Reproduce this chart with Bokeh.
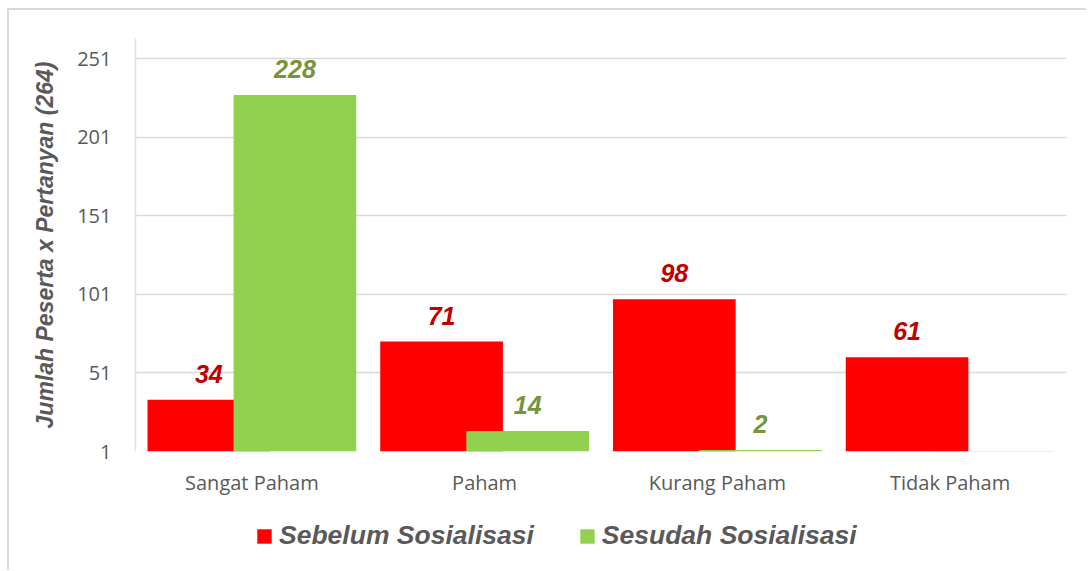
from bokeh.plotting import figure
from bokeh.layouts import column
from bokeh.models import ColumnDataSource, FactorRange, Range1d, FixedTicker, Legend, LegendItem
from bokeh.transform import dodge
from bokeh.core.properties import value
from bokeh.embed import file_html
from bokeh.resources import INLINE

categories = ["Sangat Paham", "Paham", "Kurang Paham", "Tidak Paham"]
sebelum = [34, 71, 98, 61]
sesudah = [228, 14, 2, 0]
sebelum_labels = ["34", "71", "98", "61"]
sesudah_labels = ["228", "14", "2", ""]
y_ticks = [1, 51, 101, 151, 201, 251]
series_names = ["Sebelum Sosialisasi", "Sesudah Sosialisasi"]
y_title = "Jumlah Peserta x Pertanyan (264)"

RED = "#FF0000"
GREEN = "#92D050"
BAR_W = 0.527
OFF = 0.185

src = ColumnDataSource(dict(cat=categories, sebelum=sebelum, sesudah=sesudah,
                            sebelum_labels=sebelum_labels, sesudah_labels=sesudah_labels))

p = figure(x_range=FactorRange(*categories, range_padding=0), y_range=Range1d(1, 264),
           frame_width=931, frame_height=413,
           min_border_left=126, min_border_right=20, min_border_top=28, min_border_bottom=45,
           output_backend="svg", toolbar_location=None,
           background_fill_color="white", border_fill_color="white")
p.outline_line_color = None

r1 = p.vbar(x=dodge("cat", -OFF, range=p.x_range), top="sebelum", bottom=1, width=BAR_W,
            source=src, fill_color=RED, line_color=None)
r2 = p.vbar(x=dodge("cat", OFF, range=p.x_range), top="sesudah", bottom=1, width=BAR_W,
            source=src, fill_color=GREEN, line_color=None)

lab_font = value("Liberation Sans")
p.text(x=dodge("cat", -OFF, range=p.x_range), y="sebelum", text="sebelum_labels", source=src,
       y_offset=-26, text_align="center", text_baseline="alphabetic",
       text_font=lab_font, text_font_style="bold italic", text_font_size="25px", text_color="#C00000")
p.text(x=dodge("cat", OFF, range=p.x_range), y="sesudah", text="sesudah_labels", source=src,
       y_offset=-26, text_align="center", text_baseline="alphabetic",
       text_font=lab_font, text_font_style="bold italic", text_font_size="25px", text_color="#77933C")

# axes
p.yaxis.ticker = FixedTicker(ticks=y_ticks)
p.yaxis.axis_line_color = "#e6e1d6"
p.yaxis.axis_line_width = 1.5
p.yaxis.major_tick_line_color = None
p.yaxis.minor_tick_line_color = None
p.yaxis.major_label_standoff = 18
p.yaxis.major_label_text_font = "Open Sans"
p.yaxis.major_label_text_font_size = "20px"
p.yaxis.major_label_text_color = "#595959"
p.yaxis.axis_label = y_title
p.yaxis.axis_label_text_font = "Liberation Sans"
p.yaxis.axis_label_text_font_style = "bold italic"
p.yaxis.axis_label_text_font_size = "23px"
p.yaxis.axis_label_text_color = "#595959"
p.yaxis.axis_label_standoff = 16

p.xaxis.axis_line_color = None
p.xaxis.major_tick_line_color = None
p.xaxis.minor_tick_line_color = None
p.xaxis.major_label_standoff = 11
p.xaxis.major_label_text_font = "Open Sans"
p.xaxis.major_label_text_font_size = "20px"
p.xaxis.major_label_text_color = "#595959"

p.xgrid.grid_line_color = None
p.ygrid.grid_line_color = "#d9d9d9"
p.ygrid.grid_line_width = 1.5

# legend strip below the chart (zero-height key glyphs, only used for legend swatches)
pl = figure(width=1077, height=72, x_range=FactorRange(*categories, range_padding=0),
            y_range=Range1d(0, 1),
            x_axis_type=None, y_axis_type=None, min_border=0,
            output_backend="svg", toolbar_location=None,
            background_fill_color="white", border_fill_color="white")
pl.outline_line_color = None
pl.grid.visible = False
k1 = pl.vbar(x="cat", top=0, bottom=0, width=BAR_W, source=src, fill_color=RED, line_color=None)
k2 = pl.vbar(x="cat", top=0, bottom=0, width=BAR_W, source=src, fill_color=GREEN, line_color=None)
legend = Legend(items=[LegendItem(label=series_names[0], renderers=[k1]),
                       LegendItem(label=series_names[1], renderers=[k2])],
                orientation="horizontal", location=(120, 19),
                label_text_font="Liberation Sans", label_text_font_style="bold italic",
                label_text_font_size="26.5px", label_text_color="#595959",
                glyph_width=18, glyph_height=18, label_standoff=6, spacing=44,
                border_line_color=None, background_fill_alpha=0, padding=0, margin=0)
pl.add_layout(legend, "center")

layout = column(p, pl, spacing=0,
                styles={"border-top": "2px solid #d9d9d9", "border-left": "2px solid #d9d9d9",
                        "margin-top": "8px", "margin-left": "7px"})

open("out.html", "w").write(file_html(layout, INLINE))
